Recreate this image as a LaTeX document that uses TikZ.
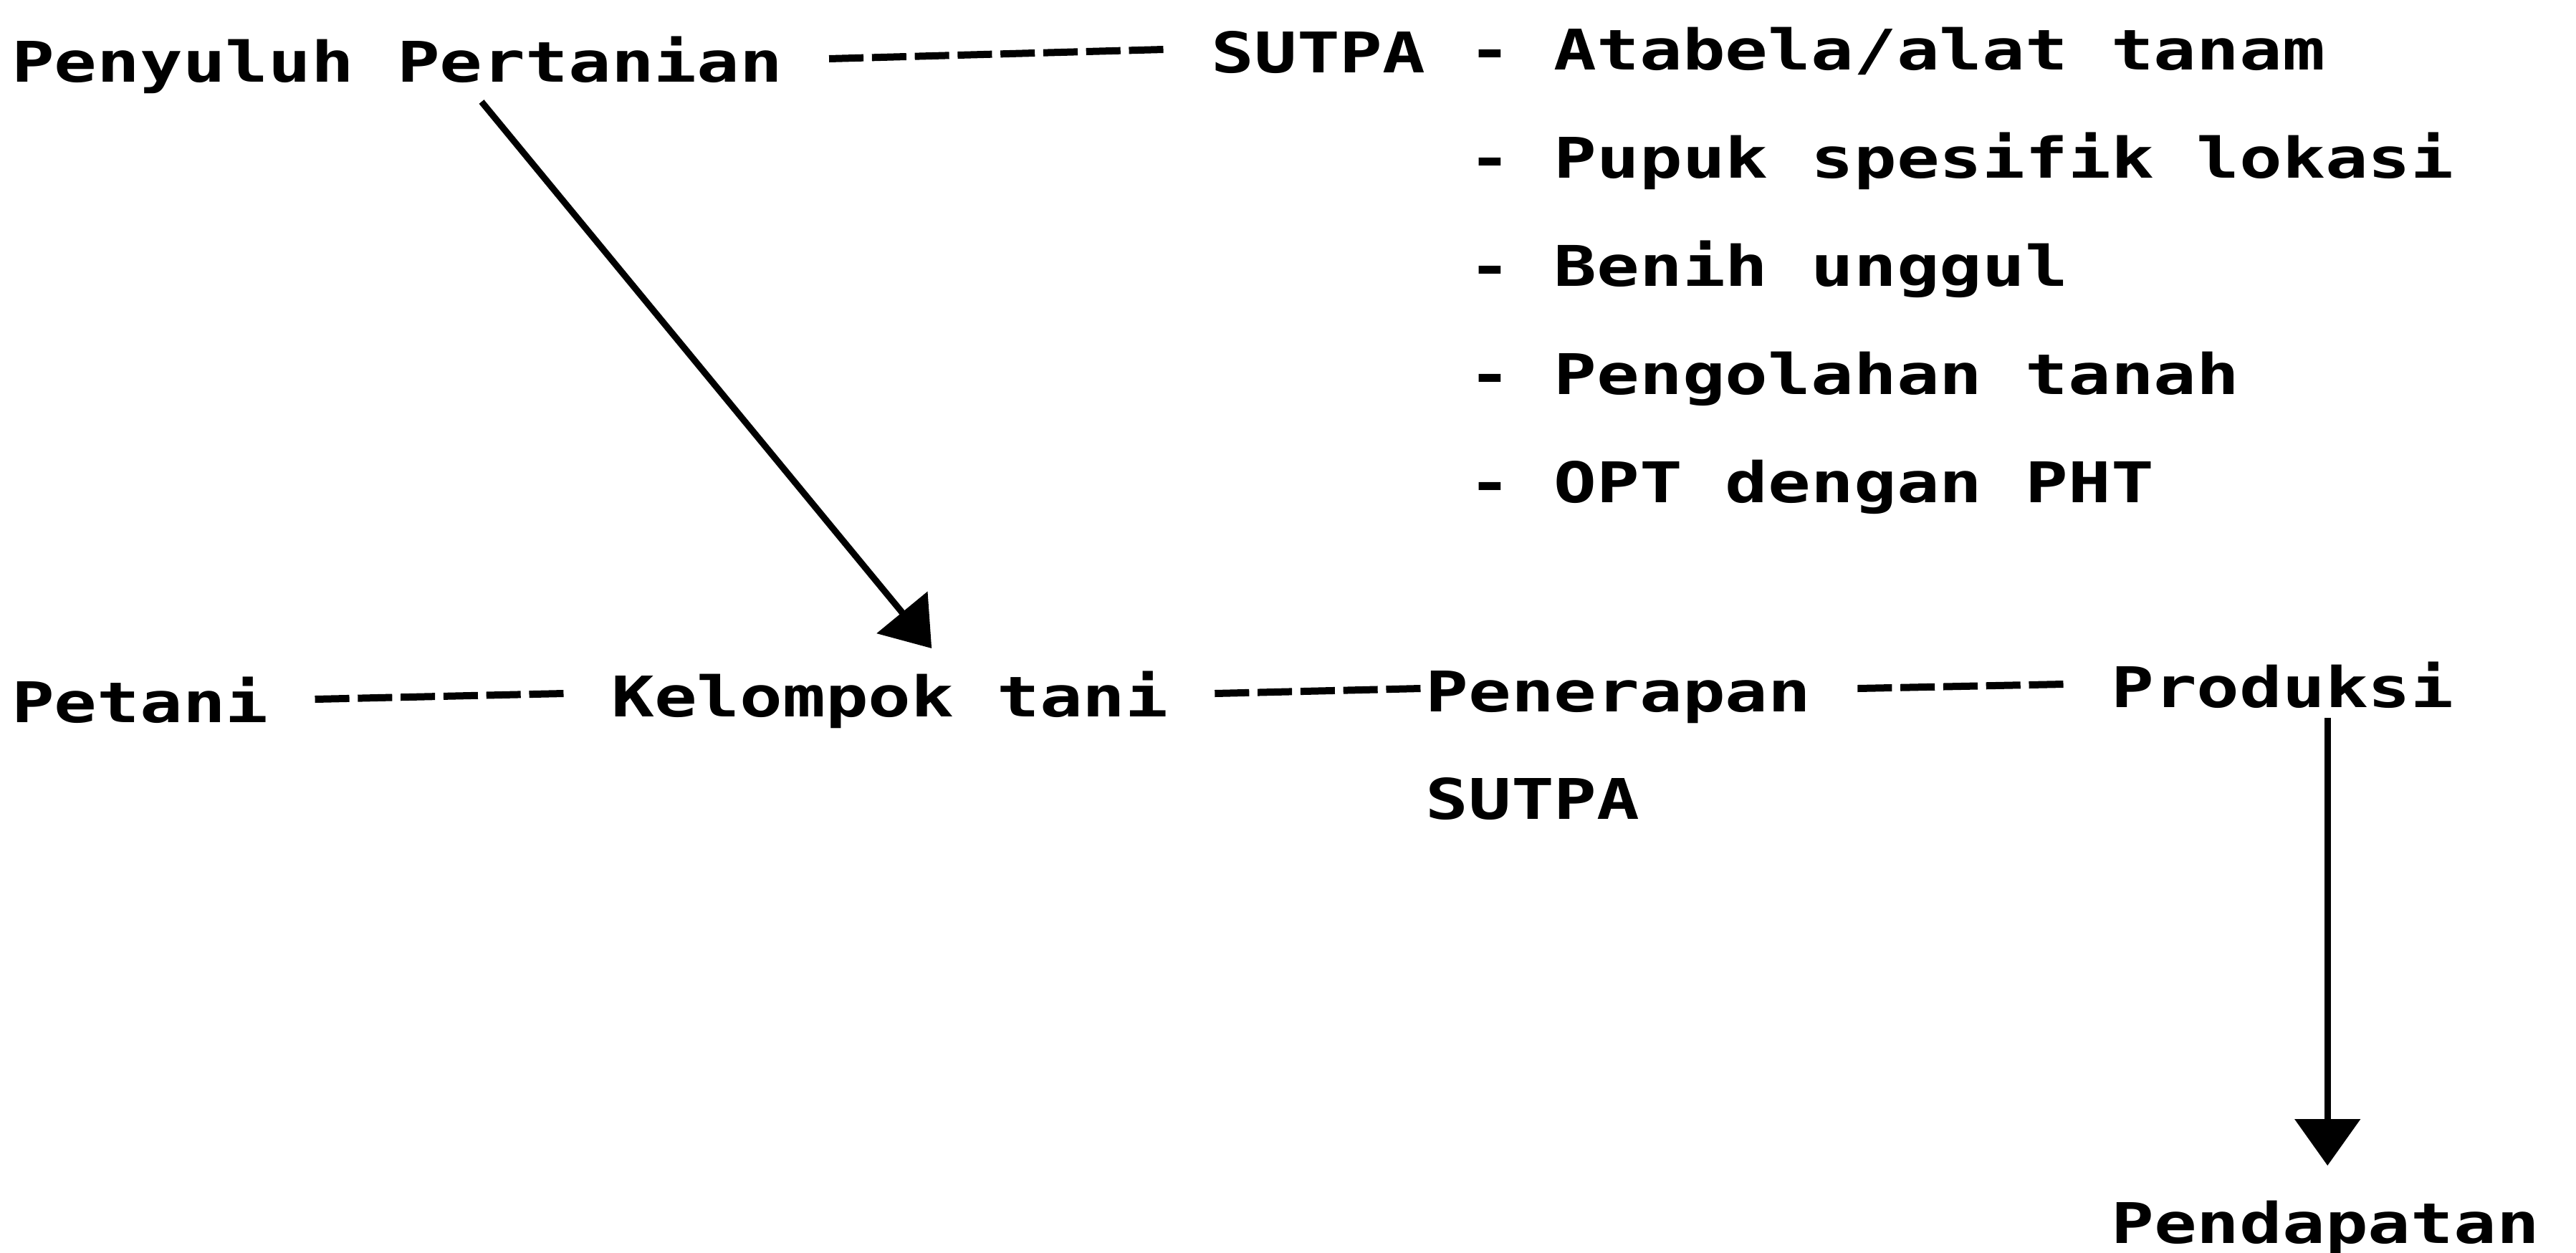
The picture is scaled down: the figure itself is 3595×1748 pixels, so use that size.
\documentclass[tikz,border=0pt]{standalone}
\usepackage{fontspec}
\newfontfamily\twbase{DejaVu Sans Mono}[FakeStretch=1.27]
\newcommand\twfont{\twbase\bfseries\fontsize{15.64pt}{18pt}\selectfont}
\usetikzlibrary{calc,arrows.meta}
\begin{document}
\begin{tikzpicture}[x=0.2pt,y=-0.2pt,
  lbl/.style={anchor=base west,inner sep=0pt,outer sep=0pt,font=\twfont},
  typed/.style={line width=2pt,dash pattern=on 9.6pt off 2.36pt},
  arr/.style={line width=1.8pt,-{Triangle[length=13pt,width=18pt]}}]
\useasboundingbox (0,0) rectangle (3595,1748);
% top line
\node[lbl] (peny)  at (16,114)     {Penyuluh Pertanian};
\node[lbl] (sutpa) at (1690.4,101) {SUTPA};
\node[lbl] (it1)   at (2049.2,97)  {- Atabela/alat tanam};
\node[lbl] (it2)   at (2049.2,248) {- Pupuk spesifik lokasi};
\node[lbl] (it3)   at (2049.2,399) {- Benih unggul};
\node[lbl] (it4)   at (2049.2,550) {- Pengolahan tanah};
\node[lbl] (it5)   at (2049.2,701) {- OPT dengan PHT};
% middle line
\node[lbl] (petani) at (16,1008)    {Petani};
\node[lbl] (kel)    at (853.2,1000) {Kelompok tani};
\node[lbl] (pen)    at (1989.4,993) {Penerapan};
\node[lbl] (sutpb)  at (1989.4,1143) {SUTPA};
\node[lbl] (prod)   at (2946.2,987) {Produksi};
\node[lbl] (pend)   at (2946.2,1735) {Pendapatan};
% typed dash connectors
\draw[typed] ($(peny.base east)+(64.8,-32)$) -- ($(sutpa.base west)+(-66.6,-32)$);
\draw[typed] ($(petani.base east)+(64.8,-32)$) -- ($(kel.base west)+(-66.6,-32)$);
\draw[typed] ($(kel.base east)+(64.8,-32)$) -- ($(pen.base west)+(-6.8,-32)$);
\draw[typed] ($(pen.base east)+(64.8,-32)$) -- ($(prod.base west)+(-66.6,-32)$);
% arrows
\draw[arr] ($(peny.base west)+(656,28)$) -- ($(kel.base west)+(447,-95)$);
\draw[arr] ($(prod.base west)+(302,15)$) -- ($(pend.base west)+(302,-108)$);
\end{tikzpicture}
\end{document}
